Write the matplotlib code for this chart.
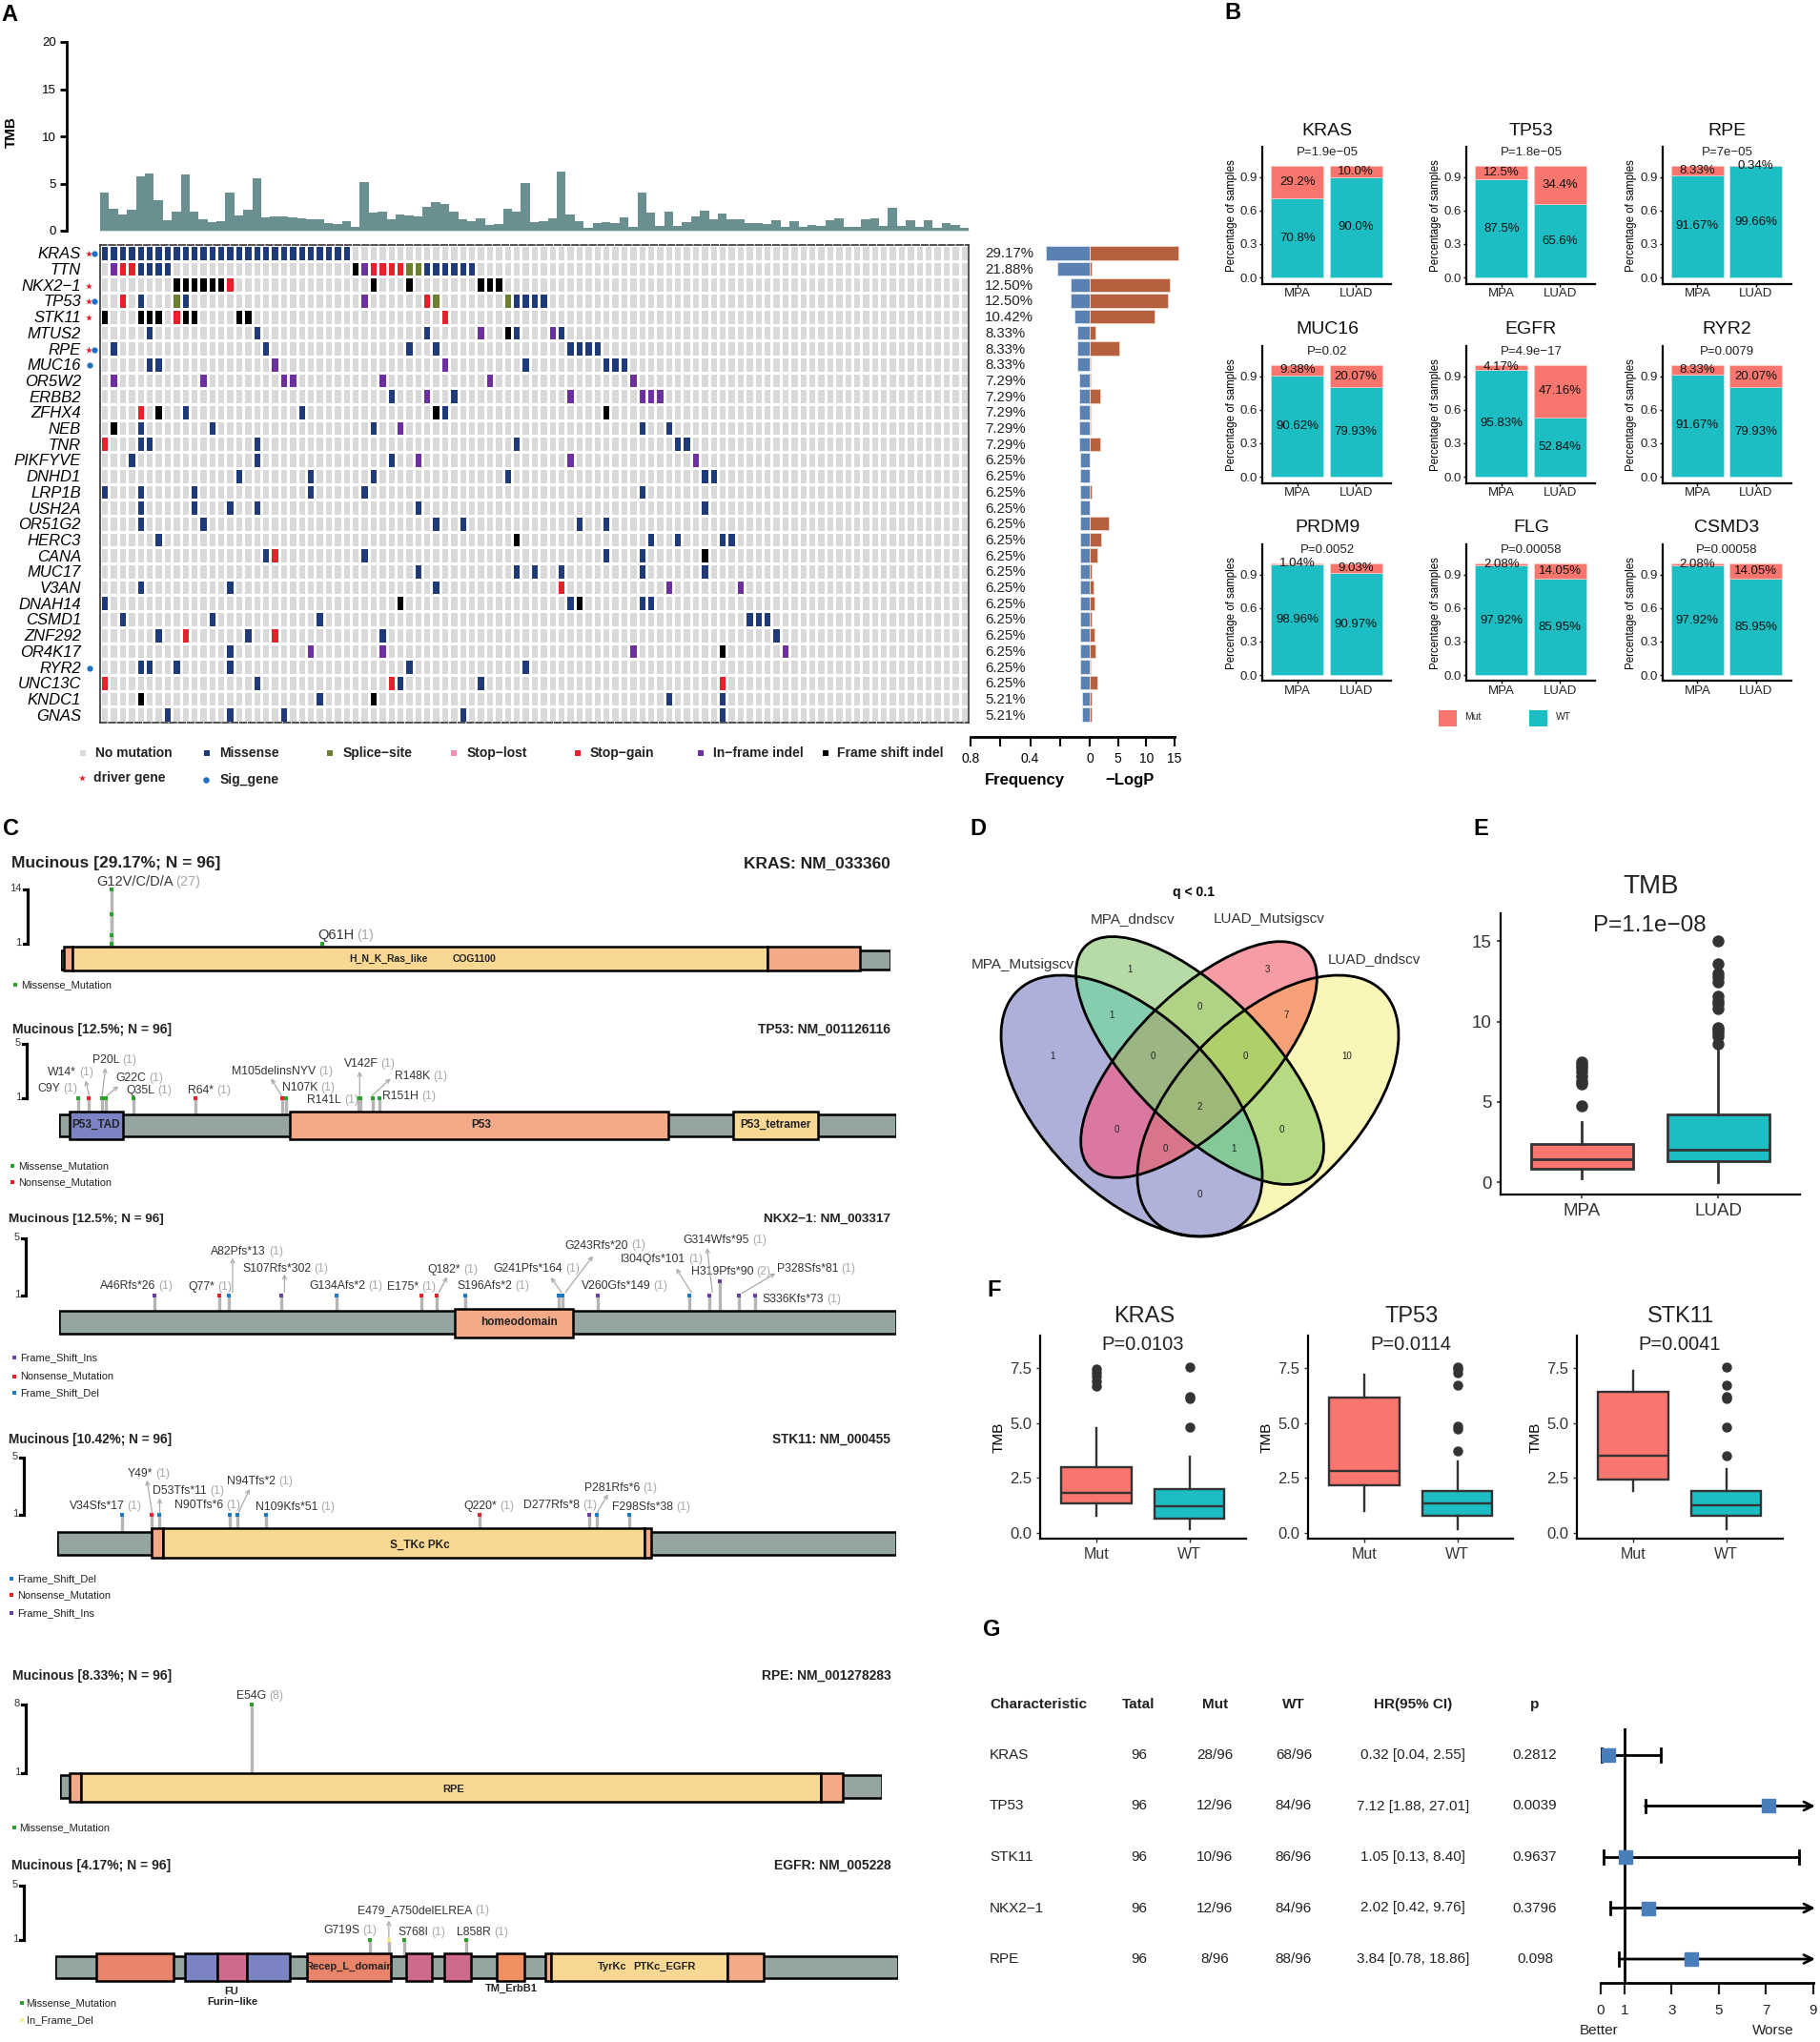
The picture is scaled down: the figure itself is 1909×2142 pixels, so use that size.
import numpy as np
import matplotlib
matplotlib.use('Agg')
import matplotlib.pyplot as plt
from matplotlib.colors import ListedColormap, to_rgb
from matplotlib.patches import Rectangle, Ellipse

plt.rcParams['font.family'] = ['Liberation Sans', 'DejaVu Sans']
plt.rcParams['axes.unicode_minus'] = True

# ------------------------------------------------------------------ DATA A
onco_genes = ['KRAS', 'TTN', 'NKX2−1', 'TP53', 'STK11', 'MTUS2', 'RPE', 'MUC16', 'OR5W2', 'ERBB2',
              'ZFHX4', 'NEB', 'TNR', 'PIKFYVE', 'DNHD1', 'LRP1B', 'USH2A', 'OR51G2', 'HERC3', 'CANA',
              'MUC17', 'V3AN', 'DNAH14', 'CSMD1', 'ZNF292', 'OR4K17', 'RYR2', 'UNC13C', 'KNDC1', 'GNAS']
onco_pct = [29.17, 21.88, 12.50, 12.50, 10.42, 8.33, 8.33, 8.33, 7.29, 7.29,
            7.29, 7.29, 7.29, 6.25, 6.25, 6.25, 6.25, 6.25, 6.25, 6.25,
            6.25, 6.25, 6.25, 6.25, 6.25, 6.25, 6.25, 6.25, 5.21, 5.21]
onco_logp = [15.7, 0.4, 14.1, 13.8, 11.4, 1.0, 5.2, 0.1, 0.1, 1.8,
             0.1, 0.1, 1.9, 0.05, 0.05, 0.3, 0.05, 3.3, 2.1, 1.4,
             0.3, 0.6, 0.8, 0.4, 0.8, 1.0, 0.15, 1.4, 0.4, 0.3]
tmb_samples = [4.0, 2.3, 1.7, 2.2, 5.8, 6.1, 3.2, 1.1, 2.0, 6.0, 2.0, 1.2, 0.9, 1.0, 4.0, 1.6, 2.2, 5.6,
               1.4, 1.5, 1.5, 1.4, 1.3, 1.25, 1.25, 0.85, 0.7, 1.0, 0.4, 5.2, 1.9, 2.0, 1.2, 1.7, 1.6, 1.5,
               2.5, 3.0, 2.8, 2.0, 1.2, 1.0, 1.3, 0.6, 0.7, 2.3, 2.0, 5.1, 0.9, 1.0, 1.3, 6.3, 1.7, 1.0,
               0.3, 0.8, 0.9, 0.8, 1.4, 0.4, 4.0, 1.9, 0.5, 2.0, 0.5, 0.9, 1.5, 2.1, 1.2, 1.8, 1.2, 1.2,
               0.8, 0.8, 0.7, 1.1, 0.4, 1.0, 0.4, 0.6, 0.5, 1.1, 1.3, 0.4, 0.4, 1.2, 1.3, 0.5, 2.4, 0.5,
               1.1, 0.4, 1.1, 0.3, 0.8, 0.6, 0.3]
# sample index per mutation class: M missense, S splice, G stop-gain, I in-frame, F frame shift
onco_mut = {
    'KRAS': {'M': [0, 1, 2, 3, 4, 5, 6, 7, 8, 9, 10, 11, 12, 13, 14, 15, 16, 17, 18, 19, 20, 21, 22, 23, 24, 25, 26, 27]},
    'TTN': {'I': [1, 29], 'G': [2, 3, 30, 31, 32, 33], 'M': [4, 5, 6, 7, 36, 37, 38, 39, 40, 41], 'F': [28], 'S': [34, 35]},
    'NKX2−1': {'F': [8, 9, 10, 11, 12, 13, 30, 34, 42, 43, 44], 'G': [14]},
    'TP53': {'G': [2, 36], 'M': [4, 9, 46, 47, 48, 49], 'S': [8, 37, 45], 'I': [29]},
    'STK11': {'F': [0, 4, 5, 6, 9, 10, 15, 16], 'G': [8, 38]},
    'MTUS2': {'M': [5, 17, 36, 46, 51], 'I': [42, 50], 'F': [45]},
    'RPE': {'M': [1, 18, 34, 37, 52, 53, 54, 55]},
    'MUC16': {'M': [5, 6, 47, 56, 57, 58], 'I': [19, 38]},
    'OR5W2': {'I': [1, 11, 20, 21, 31, 43, 59]},
    'ERBB2': {'M': [32, 39], 'I': [36, 52, 60, 61, 62]},
    'ZFHX4': {'G': [4], 'F': [6, 37, 56], 'M': [9, 22, 38]},
    'NEB': {'F': [1], 'M': [4, 12, 30, 60, 63], 'I': [33]},
    'TNR': {'G': [0], 'M': [4, 5, 17, 46, 64, 65]},
    'PIKFYVE': {'M': [3, 17, 32], 'I': [35, 52, 66]},
    'DNHD1': {'M': [15, 23, 30, 45, 67, 68]},
    'LRP1B': {'M': [0, 4, 10, 23, 29, 60]},
    'USH2A': {'M': [4, 10, 14, 17, 35, 67]},
    'OR51G2': {'M': [4, 11, 37, 40, 53, 56]},
    'HERC3': {'M': [6, 61, 64, 69, 70], 'F': [46]},
    'CANA': {'M': [18, 29, 56, 60], 'G': [19], 'F': [67]},
    'MUC17': {'M': [35, 46, 48, 51, 60, 67]},
    'V3AN': {'M': [4, 14, 37], 'G': [51], 'I': [63, 71]},
    'DNAH14': {'M': [0, 52, 60, 61], 'F': [33, 53]},
    'CSMD1': {'M': [2, 12, 24, 72, 73, 74]},
    'ZNF292': {'M': [6, 16, 31, 75], 'G': [9, 19]},
    'OR4K17': {'M': [14], 'I': [23, 31, 59, 76], 'F': [69]},
    'RYR2': {'M': [4, 5, 8, 14, 34, 47]},
    'UNC13C': {'G': [0, 32, 69], 'M': [17, 33, 42]},
    'KNDC1': {'F': [4, 30], 'M': [24, 63, 69]},
    'GNAS': {'M': [7, 14, 20, 40, 69]},
}
driver_genes = ['KRAS', 'NKX2−1', 'TP53', 'STK11', 'RPE']
sig_genes = ['KRAS', 'TP53', 'RPE', 'MUC16', 'RYR2']

# ------------------------------------------------------------------ DATA B
cmp_genes = ['KRAS', 'TP53', 'RPE', 'MUC16', 'EGFR', 'RYR2', 'PRDM9', 'FLG', 'CSMD3']
cmp_p = ['P=1.9e−05', 'P=1.8e−05', 'P=7e−05', 'P=0.02', 'P=4.9e−17', 'P=0.0079', 'P=0.0052', 'P=0.00058', 'P=0.00058']
cmp_groups = ['MPA', 'LUAD']
cmp_mut_mpa = ['29.2', '12.5', '8.33', '9.38', '4.17', '8.33', '1.04', '2.08', '2.08']
cmp_mut_luad = ['10.0', '34.4', '0.34', '20.07', '47.16', '20.07', '9.03', '14.05', '14.05']
cmp_wt_mpa = ['70.8', '87.5', '91.67', '90.62', '95.83', '91.67', '98.96', '97.92', '97.92']
cmp_wt_luad = ['90.0', '65.6', '99.66', '79.93', '52.84', '79.93', '90.97', '85.95', '85.95']

# ------------------------------------------------------------------ DATA D
venn_sets = ['MPA_Mutsigscv', 'MPA_dndscv', 'LUAD_Mutsigscv', 'LUAD_dndscv']
venn_counts = ['1', '1', '3', '10', '1', '0', '7', '0', '0', '0', '2', '0', '0', '1', '0']

# ------------------------------------------------------------------ DATA E / F (box statistics)
tmb_box = [
    dict(label='MPA', whislo=0.25, q1=0.82, med=1.43, q3=2.35, whishi=3.75,
         fliers=[4.75, 6.1, 6.3, 6.6, 6.9, 7.1, 7.3, 7.5]),
    dict(label='LUAD', whislo=0.0, q1=1.28, med=2.05, q3=4.2, whishi=8.5,
         fliers=[8.6, 9.1, 9.3, 9.5, 9.6, 10.8, 11.1, 11.3, 11.6, 12.5, 12.8, 13.0, 13.6, 15.0]),
]
kras_box = [
    dict(label='Mut', whislo=0.78, q1=1.36, med=1.83, q3=2.98, whishi=4.76, fliers=[6.7, 6.9, 7.1, 7.3, 7.45]),
    dict(label='WT', whislo=0.18, q1=0.67, med=1.2, q3=2.0, whishi=3.47, fliers=[4.8, 6.1, 6.19, 7.57]),
]
tp53_box = [
    dict(label='Mut', whislo=1.0, q1=2.16, med=2.83, q3=6.14, whishi=7.19, fliers=[]),
    dict(label='WT', whislo=0.18, q1=0.78, med=1.33, q3=1.91, whishi=3.27, fliers=[3.75, 4.75, 4.85, 6.73, 7.3, 7.45, 7.57]),
]
stk11_box = [
    dict(label='Mut', whislo=1.89, q1=2.45, med=3.52, q3=6.41, whishi=7.37, fliers=[]),
    dict(label='WT', whislo=0.18, q1=0.8, med=1.25, q3=1.89, whishi=2.89, fliers=[3.5, 4.8, 6.1, 6.2, 6.73, 7.57]),
]
f_titles = ['KRAS', 'TP53', 'STK11']
f_p = ['P=0.0103', 'P=0.0114', 'P=0.0041']

# ------------------------------------------------------------------ DATA G
forest_genes = ['KRAS', 'TP53', 'STK11', 'NKX2−1', 'RPE']
forest_total = [96, 96, 96, 96, 96]
forest_mut = ['28/96', '12/96', '10/96', '12/96', '8/96']
forest_wt = ['68/96', '84/96', '86/96', '84/96', '88/96']
forest_hr = [0.32, 7.12, 1.05, 2.02, 3.84]
forest_lo = [0.04, 1.88, 0.13, 0.42, 0.78]
forest_hi = [2.55, 27.01, 8.40, 9.76, 18.86]
forest_p = ['0.2812', '0.0039', '0.9637', '0.3796', '0.098']

# ------------------------------------------------------------------ DATA C (protein positions)
kras_pos = [11.5, 11.5, 11.5, 11.5, 59.4]
kras_lvl = [14, 8, 3, 1, 1]
kras_kind = ['mis', 'mis', 'mis', 'mis', 'mis']
tp53_pos = [9, 14, 20, 22, 35, 64, 105, 107, 141, 142, 148, 151]
tp53_lvl = [1, 1, 1, 1, 1, 1, 1, 1, 1, 1, 1, 1]
tp53_kind = ['mis', 'non', 'mis', 'mis', 'mis', 'non', 'non', 'mis', 'mis', 'mis', 'mis', 'mis']
nkx_pos = [46, 77, 82, 107, 134, 175, 182, 196, 241, 243, 260, 304, 314, 319, 328, 336]
nkx_lvl = [1, 1, 1, 1, 1, 1, 1, 1, 1, 1, 1, 1, 1, 2, 1, 1]
nkx_kind = ['ins', 'non', 'del', 'ins', 'del', 'non', 'non', 'del', 'del', 'del', 'ins', 'del', 'ins', 'ins', 'ins', 'ins']
stk_pos = [34, 49, 53, 90, 94, 109, 220, 277, 281, 298]
stk_lvl = [1, 1, 1, 1, 1, 1, 1, 1, 1, 1]
stk_kind = ['del', 'non', 'del', 'del', 'del', 'del', 'non', 'ins', 'del', 'del']
rpe_pos = [54]
rpe_lvl = [8]
rpe_kind = ['mis']
egfr_pos = [452, 479, 501, 590]
egfr_lvl = [1, 1, 1, 1]
egfr_kind = ['mis', 'ifd', 'mis', 'mis']

# ------------------------------------------------------------------ helpers
W, H = 1909, 2142
fig = plt.figure(figsize=(W / 100, H / 100), dpi=100, facecolor='white')


def pax(x0, y0, x1, y1, **kw):
    return fig.add_axes([x0 / W, 1 - y1 / H, (x1 - x0) / W, (y1 - y0) / H], **kw)


P = pax(0, 0, W, H)
P.axis('off')
P.patch.set_visible(False)
P.set_zorder(20)
P.set_xlim(0, W)
P.set_ylim(H, 0)
renderer = fig.canvas.get_renderer()

for lab, x, y in [('A', 10, 16), ('B', 1293, 13), ('C', 11, 870), ('D', 1026, 870), ('E', 1553, 870),
                  ('F', 1043, 1354), ('G', 1040, 1710)]:
    P.text(x, y, lab, fontsize=17, fontweight='bold', ha='center', va='center')

# ------------------------------------------------------------------ panel A
col_grey, col_mis, col_spl, col_lost, col_gain, col_ifr, col_fs = '#D9D9D9', '#1F3A78', '#6B7F30', '#F48FB1', '#E8202A', '#6E2FA0', '#000000'
code = {'M': 1, 'S': 2, 'G': 3, 'I': 4, 'F': 5}
nrow, ncol = len(onco_genes), len(tmb_samples)
M = np.zeros((nrow, ncol))
for i, g in enumerate(onco_genes):
    for k, cols in onco_mut[g].items():
        M[i, cols] = code[k]

ax = pax(105, 44, 1016, 242)
ax.bar(np.arange(ncol), tmb_samples, width=1.0, align='edge', color='#6A8F90')
ax.set_xlim(0, ncol)
ax.set_ylim(0, 20)
ax.set_yticks([0, 5, 10, 15, 20])
ax.tick_params(axis='y', labelsize=9.5, width=2, length=5, pad=3)
for t in ax.get_yticklabels():
    t.set_fontweight('bold')
ax.set_xticks([])
for s in ['top', 'right']:
    ax.spines[s].set_visible(False)
ax.spines['bottom'].set_color('#CFE3E5')
ax.spines['left'].set_position(('outward', 25))
ax.spines['left'].set_linewidth(2)
P.text(12, 139, 'TMB', rotation=90, fontsize=11, fontweight='bold', ha='center', va='center')

ax = pax(105, 257, 1016, 758)
ax.pcolormesh(np.arange(ncol + 1), np.arange(nrow + 1), M,
              cmap=ListedColormap([col_grey, col_mis, col_spl, col_gain, col_ifr, col_fs]),
              vmin=-0.5, vmax=5.5, edgecolors='white', linewidth=0.9)
ax.set_xlim(0, ncol)
ax.set_ylim(nrow, 0)
ax.set_xticks([])
ax.set_yticks(np.arange(nrow) + 0.5)
ax.set_yticklabels(onco_genes, fontsize=12, style='italic')
ax.tick_params(axis='y', length=0, pad=14.5)
for s in ['left', 'right']:
    ax.spines[s].set_color('#444444')
    ax.spines[s].set_linewidth(1.3)
for s in ['top', 'bottom']:
    ax.spines[s].set_color('#333333')
    ax.spines[s].set_linewidth(1.2)
    ax.spines[s].set_linestyle((0, (4, 1.5)))

row_y = 257 + (np.arange(nrow) + 0.5) * (501 / nrow)
for i, g in enumerate(onco_genes):
    P.text(1033, row_y[i] + 1, '%.2f%%' % onco_pct[i], fontsize=10.8, ha='left', va='center', color='#222222')
    d, s = g in driver_genes, g in sig_genes
    if d:
        P.scatter([93], [row_y[i] + 1], marker='*', s=28, color='#E8202A', linewidths=0)
    if s:
        P.scatter([98.5 if d else 94], [row_y[i] + 1], marker='o', s=20, color='#1F6FC4', linewidths=0)

axl = pax(1018, 257, 1143, 758)
axl.barh(np.arange(nrow) + 0.5, np.array(onco_pct) / 100, height=0.86, color='#5B80B2', edgecolor='#DCE6F2', linewidth=0.6)
axl.set_xlim(0.8, 0)
axl.set_ylim(nrow, 0)
axl.set_yticks([])
axl.set_xticks([0.8, 0.6, 0.4, 0.2, 0])
axl.set_xticklabels(['0.8', '', '0.4', '', '0'], fontsize=9.5, fontweight='bold')
axr = pax(1143, 257, 1232, 758)
axr.barh(np.arange(nrow) + 0.5, onco_logp, height=0.86, color='#B5603F', edgecolor='#F0D8CC', linewidth=0.6, clip_on=False)
axr.set_xlim(0, 15)
axr.set_ylim(nrow, 0)
axr.set_yticks([])
axr.set_xticks([0, 5, 10, 15])
axr.set_xticklabels(['', '5', '10', '15'], fontsize=9.5, fontweight='bold')
for a in (axl, axr):
    a.patch.set_visible(False)
    for s in ['top', 'left', 'right']:
        a.spines[s].set_visible(False)
    a.spines['bottom'].set_position(('outward', 10.5))
    a.spines['bottom'].set_linewidth(2)
    a.tick_params(axis='x', width=1.5, length=7, pad=5)
P.text(1075, 819, 'Frequency', fontsize=12, fontweight='bold', ha='center', va='center')
P.text(1185, 819, '−LogP', fontsize=12, fontweight='bold', ha='center', va='center')

zx = 1270 / 1570
leg = [('No mutation', 108, 124, col_grey), ('Missense', 268, 284, col_mis), ('Splice−site', 428, 445, col_spl),
       ('Stop−lost', 588, 605, col_lost), ('Stop−gain', 749, 765, col_gain), ('In−frame indel', 909, 925, col_ifr),
       ('Frame shift indel', 1070, 1085, col_fs)]
for name, kx, tx, c in leg:
    P.scatter([kx * zx], [790], marker='s', s=22, color=c, linewidths=0)
    P.text(tx * zx, 790, name, fontsize=10, fontweight='bold', va='center', ha='left', color='#222222')
P.scatter([106 * zx], [816], marker='*', s=30, color='#E8202A', linewidths=0)
P.text(121 * zx, 816, 'driver gene', fontsize=10, fontweight='bold', va='center', color='#222222')
P.scatter([267 * zx], [818], marker='o', s=22, color='#1F6FC4', linewidths=0)
P.text(285 * zx, 818, 'Sig_gene', fontsize=10, fontweight='bold', va='center', color='#222222')

# ------------------------------------------------------------------ panel B
col_mut, col_wt = '#F8766D', '#1CBDC3'
b_lefts = [1324, 1538, 1743.5]
b_zero = [291, 500, 708]
for n, g in enumerate(cmp_genes):
    r, c = divmod(n, 3)
    x0, z = b_lefts[c], b_zero[r]
    ax = pax(x0, z - 137, x0 + 135, z + 6.5)
    wt = [float(cmp_wt_mpa[n]) / 100, float(cmp_wt_luad[n]) / 100]
    mu = [1 - wt[0], 1 - wt[1]]
    ax.bar([0, 1], wt, width=0.9, color=col_wt, edgecolor='#BFECEE', linewidth=0.5)
    ax.bar([0, 1], mu, bottom=wt, width=0.9, color=col_mut, edgecolor='#FBCFCB', linewidth=0.5)
    for i, (ws, ms) in enumerate([(cmp_wt_mpa[n], cmp_mut_mpa[n]), (cmp_wt_luad[n], cmp_mut_luad[n])]):
        ax.text(i, wt[i] / 2, ws + '%', ha='center', va='center', fontsize=9.5, color='#111111')
        ax.text(i, wt[i] + mu[i] / 2, ms + '%', ha='center', va='center', fontsize=9.5, color='#111111', clip_on=False)
    ax.set_xlim(-0.6, 1.6)
    ax.set_ylim(-0.055, 1.169)
    ax.set_xticks([0, 1])
    ax.set_xticklabels(cmp_groups, fontsize=9.5, color='#222222')
    ax.set_yticks([0, 0.3, 0.6, 0.9])
    ax.set_yticklabels(['0.0', '0.3', '0.6', '0.9'], fontsize=9.5, color='#222222')
    ax.tick_params(axis='both', width=1, length=2, pad=1.5)
    ax.set_ylabel('Percentage of samples', fontsize=8.3, labelpad=2)
    for s in ['top', 'right']:
        ax.spines[s].set_visible(False)
    for s in ['left', 'bottom']:
        ax.spines[s].set_linewidth(1.6)
    P.text(x0 + 68, z - 154, g, fontsize=14, ha='center', va='center', color='#111111')
    P.text(x0 + 68, z - 131, cmp_p[n], fontsize=9.5, ha='center', va='center', color='#222222')
P.add_patch(Rectangle((1508.5, 745), 19, 17, color=col_mut, lw=0))
P.text(1536, 752, 'Mut', fontsize=7.5, va='center', color='#222222')
P.add_patch(Rectangle((1604, 745), 19, 17, color=col_wt, lw=0))
P.text(1632, 752, 'WT', fontsize=7.5, va='center', color='#222222')

# ------------------------------------------------------------------ panel C
kind_col = {'mis': '#2CA02C', 'non': '#E8202A', 'del': '#1F78C4', 'ins': '#6A3FA0', 'ifd': '#F4F08A'}
kind_name = {'mis': 'Missense_Mutation', 'non': 'Nonsense_Mutation', 'del': 'Frame_Shift_Del',
             'ins': 'Frame_Shift_Ins', 'ifd': 'In_Frame_Del'}
OR, YE, BL, SA, PK, TM = '#F4A989', '#F9D894', '#7C83C4', '#E9846B', '#CE6A8E', '#F09060'


def z1(x, y):
    return x * 960 / 1570, 850 + y * 660 / 1560


def z2(x, y):
    return x * 960 / 1570, 1490 + y * 652 / 1560


tracks = [
    dict(z=z1, L=189, pos=kras_pos, lvl=kras_lvl, kind=kras_kind,
         title='Mucinous [29.17%; N = 96]', right='KRAS: NM_033360', ty=131, tx=20, tfs=12.5, x=(105, 1528), bb=(347, 395), dm=(339, 398), stem=340,
         br=(47, 196, 330, 14), doms=[(0.7, 2.5, OR), (2.5, 161, YE), (161, 182, OR)],
         dtext=[('H_N_K_Ras_like', 667, 369), ('COG1100', 814, 369)], dfs=7.5, lfs=10.5,
         labels=[('G12V/C/D/A', 27, 165, 177), ('Q61H', 1, 545, 309)], arrows=[],
         leg=[('mis', 26, 36, 432)]),
    dict(z=z1, L=395, pos=tp53_pos, lvl=tp53_lvl, kind=tp53_kind,
         title='Mucinous [12.5%; N = 96]', right='TP53: NM_001126116', ty=543, tx=22, tfs=10, x=(102, 1537), bb=(753, 808), dm=(747, 816), stem=750,
         br=(46, 578, 713, 5), doms=[(5, 30, BL), (108.8, 287.6, OR), (318, 358, YE)],
         dtext=[('P53_TAD', 165, 780), ('P53', 826, 781), ('P53_tetramer', 1330, 780)], dfs=8.5, lfs=8.8,
         labels=[('C9Y', 1, 64, 690), ('W14*', 1, 82, 649), ('P20L', 1, 158, 619), ('G22C', 1, 198, 664),
                 ('Q35L', 1, 216, 695), ('R64*', 1, 322, 695), ('M105delinsNYV', 1, 398, 647), ('N107K', 1, 484, 688),
                 ('R141L', 1, 527, 718), ('V142F', 1, 590, 629), ('R148K', 1, 677, 660), ('R151H', 1, 656, 708)],
         arrows=[(153, 708, 147, 670), (175, 708, 181, 638), (183, 708, 203, 684), (483, 708, 465, 665),
                 (617, 708, 617, 647), (638, 708, 670, 665)],
         leg=[('mis', 22, 31, 881), ('non', 22, 31, 922)]),
    dict(z=z1, L=404, pos=nkx_pos, lvl=nkx_lvl, kind=nkx_kind,
         title='Mucinous [12.5%; N = 96]', right='NKX2−1: NM_003317', ty=1014, tx=15, tfs=9.7, x=(102, 1537), bb=(1240, 1298), dm=(1235, 1307), stem=1238,
         br=(44, 1062, 1203, 5), doms=[(191, 248, OR)],
         dtext=[('homeodomain', 891, 1270)], dfs=8.5, lfs=8.8,
         labels=[('A46Rfs*26', 1, 172, 1180), ('Q77*', 1, 322, 1182), ('A82Pfs*13', 1, 362, 1095), ('S107Rfs*302', 1, 416, 1136),
                 ('G134Afs*2', 1, 530, 1180), ('E175*', 1, 664, 1182), ('Q182*', 1, 734, 1140), ('S196Afs*2', 1, 784, 1180),
                 ('G241Pfs*164', 1, 846, 1136), ('G243Rfs*20', 1, 969, 1079), ('V260Gfs*149', 1, 997, 1180), ('I304Qfs*101', 1, 1065, 1114),
                 ('G314Wfs*95', 1, 1172, 1065), ('H319Pfs*90', 2, 1185, 1144), ('P328Sfs*81', 1, 1333, 1136), ('S336Kfs*73', 1, 1308, 1213)],
         arrows=[(399, 1195, 399, 1110), (488, 1195, 488, 1150), (753, 1195, 767, 1157), (963, 1195, 945, 1158),
                 (970, 1195, 1017, 1105), (1186, 1195, 1160, 1136), (1222, 1195, 1213, 1085), (1272, 1198, 1330, 1148)],
         leg=[('ins', 25, 34, 1357), ('non', 25, 34, 1403), ('del', 25, 34, 1444)]),
    dict(z=z2, L=437, pos=stk_pos, lvl=stk_lvl, kind=stk_kind,
         title='Mucinous [10.42%; N = 96]', right='STK11: NM_000455', ty=48, tx=14, tfs=9.8, x=(98, 1537), bb=(279, 338), dm=(271, 345), stem=275,
         br=(41, 93, 236, 5), doms=[(49, 55, OR), (55, 306, YE), (306, 309.5, OR)],
         dtext=[('S_TKc PKc', 720, 313)], dfs=8.5, lfs=8.8,
         labels=[('V34Sfs*17', 1, 119, 215), ('Y49*', 1, 219, 133), ('D53Tfs*11', 1, 262, 178), ('N90Tfs*6', 1, 300, 213),
                 ('N94Tfs*2', 1, 389, 153), ('N109Kfs*51', 1, 438, 217), ('Q220*', 1, 796, 215), ('D277Rfs*8', 1, 898, 212),
                 ('P281Rfs*6', 1, 1002, 169), ('F298Sfs*38', 1, 1050, 217)],
         arrows=[(261, 232, 252, 150), (274, 232, 274, 195), (409, 232, 428, 172), (1024, 232, 1043, 185)],
         leg=[('del', 20, 29, 397), ('non', 20, 29, 439), ('ins', 20, 29, 483)]),
    dict(z=z2, L=232, pos=rpe_pos, lvl=rpe_lvl, kind=rpe_kind,
         title='Mucinous [8.33%; N = 96]', right='RPE: NM_001278283', ty=641, tx=22, tfs=10, x=(103, 1512), bb=(889, 947), dm=(885, 956), stem=885,
         br=(44, 713, 885, 8), doms=[(2.8, 5.8, OR), (5.8, 215, YE), (215, 221, OR)],
         dtext=[('RPE', 778, 926)], dfs=8, lfs=8.8,
         labels=[('E54G', 8, 406, 692)], arrows=[],
         leg=[('mis', 24, 33, 1021)]),
    dict(z=z2, L=1210, pos=egfr_pos, lvl=egfr_lvl, kind=egfr_kind,
         title='Mucinous [4.17%; N = 96]', right='EGFR: NM_005228', ty=1117, tx=20, tfs=10, x=(95, 1540), bb=(1344, 1400), dm=(1337, 1406), stem=1340,
         br=(41, 1168, 1303, 5),
         doms=[(59, 170, SA), (186, 232, BL), (232, 275, PK), (275, 337, BL), (362, 482, SA), (504, 541, PK), (558, 597, PK),
               (634, 673, TM), (704, 712, OR), (712, 966, YE), (966, 1017, OR)],
         dtext=[('Recep_L_domain', 599, 1371), ('TyrKc', 1050, 1371), ('PTKc_EGFR', 1140, 1371),
                ('FU', 396, 1433), ('Furin−like', 398, 1460), ('TM_ErbB1', 877, 1427)], dfs=8, lfs=8.8,
         labels=[('G719S', 1, 555, 1279), ('E479_A750delELREA', 1, 613, 1229), ('S768I', 1, 683, 1286), ('L858R', 1, 784, 1284)],
         arrows=[(667, 1298, 667, 1255)],
         leg=[('mis', 37, 45, 1462), ('ifd', 37, 45, 1505)]),
]

for t in tracks:
    z = t['z']
    x0, _ = z(t['x'][0], 0)
    x1, _ = z(t['x'][1], 0)
    _, ytop = z(0, t['br'][1])
    _, yone = z(0, t['br'][2])
    _, bbt = z(0, t['bb'][0])
    _, bbb = z(0, t['bb'][1])
    _, dmt = z(0, t['dm'][0])
    _, dmb = z(0, t['dm'][1])
    _, stem = z(0, t['stem'])
    top = t['br'][3]

    def cnt(py):
        return 1 + (yone - py) * (top - 1) / (yone - ytop)

    ax = pax(x0, ytop - 6, x1, dmb + 2)
    ax.axis('off')
    ax.set_xlim(0, t['L'])
    ax.set_ylim(cnt(dmb + 2), cnt(ytop - 6))
    base = cnt(stem + 4)
    for p, l, k in zip(t['pos'], t['lvl'], t['kind']):
        ax.plot([p, p], [base, l], color='#B5B5B5', lw=2.4, solid_capstyle='butt', zorder=1, clip_on=False)
        ax.scatter([p], [l], marker='s', s=9, color=kind_col[k], linewidths=0, zorder=3, clip_on=False)
    ax.add_patch(Rectangle((0, cnt(bbb)), t['L'], cnt(bbt) - cnt(bbb), facecolor='#94A5A2', edgecolor='black', lw=1.8, zorder=2))
    for s, e, c in t['doms']:
        ax.add_patch(Rectangle((s, cnt(dmb)), e - s, cnt(dmt) - cnt(dmb), facecolor=c, edgecolor='black', lw=1.8, zorder=2.5))

    tx, ty = z(t['tx'], t['ty'])
    P.text(tx, ty, t['title'], fontsize=t['tfs'], fontweight='bold', va='center', color='#222222')
    rx, _ = z(1528, 0)
    P.text(rx, ty, t['right'], fontsize=t['tfs'], fontweight='bold', va='center', ha='right', color='#222222')

    bx, _ = z(t['br'][0], 0)
    P.plot([bx - 4, bx, bx, bx - 4], [ytop, ytop, yone, yone], color='black', lw=2.3, solid_joinstyle='miter')
    P.text(bx - 6, ytop - 1, str(top), fontsize=8, ha='right', va='center', color='#333333')
    P.text(bx - 6, yone - 1, '1', fontsize=8, ha='right', va='center', color='#333333')

    for name, lx, ly in t['dtext']:
        px, py = z(lx, ly)
        P.text(px, py, name, fontsize=t['dfs'], fontweight='bold', ha='center', va='center', color='#222222')
    for name, c, lx, ly in t['labels']:
        px, py = z(lx, ly)
        a = P.text(px, py, name, fontsize=t['lfs'], va='center', color='#333333')
        e = a.get_window_extent(renderer)
        P.text(e.x1 + 3, py, '(%d)' % c, fontsize=t['lfs'], va='center', color='#AAAAAA')
    for ax0, ay0, ax1, ay1 in t['arrows']:
        p0, p1 = z(ax0, ay0), z(ax1, ay1)
        P.annotate('', xy=p1, xytext=p0, arrowprops=dict(arrowstyle='->', color='#AAAAAA', lw=0.9, shrinkA=0, shrinkB=0, mutation_scale=7))
    for k, kx, lx, ly in t['leg']:
        px, py = z(kx, ly)
        P.scatter([px], [py], marker='s', s=5, color=kind_col[k], linewidths=0)
        px, py = z(lx, ly)
        P.text(px, py, kind_name[k], fontsize=7.9, va='center', color='#222222')

# ------------------------------------------------------------------ panel D


def z6(x, y):
    return 980 + x * 929 / 1570, 850 + y * 800 / 1560


# centre x, centre y, long axis, short axis, tilt (pixels of the figure)
ell = [(1187, 1160, 340, 186, 45), (1258.5, 1112.5, 339.4, 141.5, 45),
       (1257.5, 1111.5, 322, 138, -45), (1330, 1160, 340, 186, -45)]
# fill of each Venn region, keyed by membership bits (1, 2, 4, 8 = the four sets in order)
region_col = {1: '#AEB0D9', 2: '#B7DBA6', 4: '#F69CA4', 8: '#F9F6B8', 3: '#85CDAE', 6: '#B0D285', 12: '#F8A078',
              7: '#9BB583', 14: '#AFCF6B', 5: '#DB78A2', 10: '#B5DA83', 15: '#9DB878', 13: '#D8758B', 11: '#85C998', 9: '#B0B2D9'}
gx, gy = np.meshgrid(np.arange(1020, 1480) + 0.5, np.arange(960, 1330) + 0.5)
bits = np.zeros(gx.shape, int)
for b, (cx, cy, w, h, ang) in enumerate(ell):
    a = np.deg2rad(ang)
    dx, dy = gx - cx, gy - cy
    u = dx * np.cos(a) + dy * np.sin(a)
    v = -dx * np.sin(a) + dy * np.cos(a)
    bits += (((2 * u / w) ** 2 + (2 * v / h) ** 2) <= 1).astype(int) << b
img = np.ones(gx.shape + (4,))
img[..., 3] = 0
for k, col in region_col.items():
    img[bits == k] = list(to_rgb(col)) + [1]
P.imshow(img, extent=(1020, 1480, 1330, 960), aspect='auto', interpolation='nearest', zorder=1)
P.set_xlim(0, W)
P.set_ylim(H, 0)
for (cx, cy, w, h, ang) in ell:
    P.add_patch(Ellipse((cx, cy), w, h, angle=ang, facecolor='none', edgecolor='black', lw=2, zorder=2))
venn_xy = [(209, 504), (347, 326), (591, 326), (731, 504), (315, 419), (470, 402), (624, 419), (388, 504), (551, 504),
           (323, 654), (470, 607), (616, 654), (409, 692), (531, 692), (470, 786)]
for s, xy in zip(venn_counts, venn_xy):
    P.text(*z6(*xy), s, fontsize=7, ha='center', va='center', color='#222222', zorder=3)
for s, xy in zip(venn_sets, [(157, 315), (352, 222), (594, 222), (780, 305)]):
    P.text(*z6(*xy), s, fontsize=11, ha='center', va='center', color='#333333', zorder=3)
P.text(*z6(459, 168), 'q < 0.1', fontsize=10, fontweight='bold', ha='center', va='center', zorder=3)

# ------------------------------------------------------------------ panels E / F


def box_panel(ax, stats, fs, lw, ms):
    bp = ax.bxp(stats, positions=[0, 1], widths=0.75, patch_artist=True, showcaps=False,
                boxprops=dict(edgecolor='#333333', linewidth=lw),
                medianprops=dict(color='#333333', linewidth=lw),
                whiskerprops=dict(color='#333333', linewidth=lw),
                flierprops=dict(marker='o', markerfacecolor='#333333', markeredgecolor='#333333', markersize=ms))
    bp['boxes'][0].set_facecolor(col_mut)
    bp['boxes'][1].set_facecolor(col_wt)
    ax.set_xlim(-0.6, 1.6)
    for s in ['top', 'right']:
        ax.spines[s].set_visible(False)
    for s in ['left', 'bottom']:
        ax.spines[s].set_linewidth(1.6)


ax = pax(1573.5, 958, 1888, 1253)
box_panel(ax, tmb_box, 13, 2, 8)
ax.set_ylim(-0.77, 16.75)
ax.set_yticks([0, 5, 10, 15])
ax.tick_params(axis='both', labelsize=13.5, colors='#333333', width=1.2, length=3)
P.text(1731.5, 930, 'TMB', fontsize=20, ha='center', va='center', color='#222222')
P.text(1730, 971, 'P=1.1e−08', fontsize=17.5, ha='center', va='center', color='#222222')

f_lefts = [1091, 1372, 1654]
for n, stats in enumerate([kras_box, tp53_box, stk11_box]):
    x0 = f_lefts[n]
    ax = pax(x0, 1401.5, x0 + 215.5, 1614)
    box_panel(ax, stats, 12, 1.7, 6.5)
    ax.set_ylim(-0.26, 8.96)
    ax.set_yticks([0, 2.5, 5, 7.5])
    ax.set_yticklabels(['0.0', '2.5', '5.0', '7.5'])
    ax.tick_params(axis='y', labelsize=12, colors='#333333', width=1, length=3)
    ax.tick_params(axis='x', labelsize=11.5, colors='#333333', width=1, length=3)
    ax.set_ylabel('TMB', fontsize=11, labelpad=3)
    P.text(x0 + 109, 1381, f_titles[n], fontsize=17, ha='center', va='center', color='#222222')
    P.text(x0 + 108, 1411, f_p[n], fontsize=14.5, ha='center', va='center', color='#222222')

# ------------------------------------------------------------------ panel G
g_cols = [1194.5, 1274.5, 1357, 1482, 1610]
for s, x in zip(['Tatal', 'Mut', 'WT', 'HR(95% CI)', 'p'], g_cols):
    P.text(x, 1788, s, fontsize=11, fontweight='bold', ha='center', va='center', color='#222222')
P.text(1038, 1788, 'Characteristic', fontsize=11, fontweight='bold', ha='left', va='center', color='#222222')
ax = pax(1679, 1813, 1902, 2080)
ax.patch.set_visible(False)
ax.set_xlim(0, 9)
ax.set_ylim(4.467, -0.523)
for i in range(len(forest_genes)):
    py = 1841 + i * 53.5
    P.text(1038, py, forest_genes[i], fontsize=11, ha='left', va='center', color='#222222')
    hr_s = '%.2f [%.2f, %.2f]' % (forest_hr[i], forest_lo[i], forest_hi[i])
    for s, x in zip([str(forest_total[i]), forest_mut[i], forest_wt[i], hr_s, forest_p[i]], g_cols):
        P.text(x, py, s, fontsize=11, ha='center', va='center', color='#222222')
    lo, hi = forest_lo[i], forest_hi[i]
    if hi > 9:
        ax.annotate('', xy=(9.08, i), xytext=(lo, i), annotation_clip=False,
                    arrowprops=dict(arrowstyle='->', color='black', lw=2, shrinkA=0, shrinkB=0, mutation_scale=16))
    else:
        ax.plot([lo, hi], [i, i], color='black', lw=2)
        ax.plot([hi, hi], [i - 0.13, i + 0.13], color='black', lw=2)
    ax.plot([lo, lo], [i - 0.13, i + 0.13], color='black', lw=2, clip_on=False)
    ax.plot([forest_hr[i]], [i], marker='s', ms=9.5, color='#4A7EBB', zorder=5, clip_on=False)
ax.axvline(1, color='black', lw=2)
ax.set_yticks([])
ax.set_xticks([0, 1, 3, 5, 7, 9])
ax.tick_params(axis='x', labelsize=11, width=1.6, length=8.5, pad=7, colors='#222222')
for s in ['top', 'left', 'right']:
    ax.spines[s].set_visible(False)
ax.spines['bottom'].set_linewidth(2)
P.text(1677, 2130, 'Better', fontsize=11, ha='center', va='center', color='#222222')
P.text(1860, 2130, 'Worse', fontsize=11, ha='center', va='center', color='#222222')

fig.savefig('out.png', dpi=100, facecolor='white')
